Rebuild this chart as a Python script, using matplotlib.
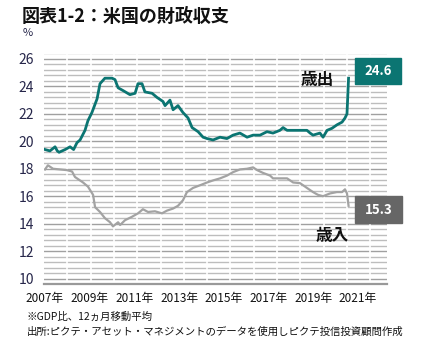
import matplotlib
matplotlib.use('Agg')
import matplotlib.pyplot as plt
from matplotlib.patches import Rectangle
from matplotlib.ticker import MultipleLocator
import numpy as np

plt.rcParams['font.family'] = ['Noto Sans CJK JP', 'DejaVu Sans']

# 歳出 (expenditure), % of GDP, 12-month moving average
spend_x = [2007.00, 2007.22, 2007.45, 2007.55, 2007.63, 2007.90, 2008.12, 2008.28,
           2008.43, 2008.57, 2008.79, 2008.92, 2009.10, 2009.33, 2009.46, 2009.68,
           2010.00, 2010.13, 2010.27, 2010.49, 2010.80, 2011.03, 2011.16, 2011.34,
           2011.47, 2011.79, 2012.01, 2012.28, 2012.37, 2012.59, 2012.73, 2012.95,
           2013.17, 2013.40, 2013.58, 2013.85, 2014.07, 2014.25, 2014.52, 2014.83,
           2015.14, 2015.41, 2015.72, 2016.04, 2016.31, 2016.62, 2016.93, 2017.20,
           2017.51, 2017.65, 2017.83, 2018.10, 2018.41, 2018.72, 2018.86, 2018.99,
           2019.30, 2019.44, 2019.62, 2019.84, 2020.06, 2020.29, 2020.42, 2020.51,
           2020.58]
spend_y = [19.4, 19.3, 19.6, 19.3, 19.2, 19.4, 19.6, 19.4,
           19.9, 20.1, 20.8, 21.5, 22.1, 23.1, 24.2, 24.6,
           24.6, 24.5, 23.9, 23.7, 23.4, 23.5, 24.2, 24.2,
           23.6, 23.5, 23.2, 22.9, 22.6, 23.0, 22.3, 22.6,
           22.1, 21.7, 21.0, 20.7, 20.3, 20.2, 20.1, 20.3,
           20.2, 20.45, 20.6, 20.3, 20.45, 20.45, 20.7, 20.6,
           20.8, 21.0, 20.8, 20.8, 20.8, 20.8, 20.6, 20.45,
           20.6, 20.3, 20.8, 20.95, 21.2, 21.4, 21.7, 22.0,
           24.6]

# 歳入 (revenue)
rev_x = [2007.00, 2007.13, 2007.36, 2007.98, 2008.21, 2008.34, 2008.70, 2008.92,
         2009.15, 2009.24, 2009.46, 2009.68, 2009.91, 2010.04, 2010.27, 2010.36,
         2010.58, 2010.89, 2011.16, 2011.38, 2011.61, 2011.92, 2012.23, 2012.46,
         2012.73, 2012.95, 2013.17, 2013.35, 2013.62, 2013.94, 2014.25, 2014.52,
         2014.83, 2015.14, 2015.41, 2015.72, 2016.04, 2016.31, 2016.49, 2016.75,
         2017.07, 2017.20, 2017.51, 2017.83, 2018.10, 2018.41, 2018.72, 2018.99,
         2019.21, 2019.44, 2019.75, 2020.06, 2020.29, 2020.42, 2020.51, 2020.58]
rev_y = [17.95, 18.25, 18.0, 17.9, 17.8, 17.4, 17.0, 16.7,
         16.1, 15.2, 14.85, 14.4, 14.1, 13.8, 14.1, 13.9,
         14.25, 14.5, 14.75, 15.05, 14.85, 14.9, 14.75, 14.95,
         15.1, 15.3, 15.7, 16.3, 16.6, 16.8, 17.0, 17.15,
         17.3, 17.5, 17.75, 17.95, 18.0, 18.1, 17.9, 17.7,
         17.5, 17.3, 17.3, 17.3, 17.0, 16.95, 16.6, 16.3,
         16.1, 16.0, 16.2, 16.3, 16.3, 16.5, 16.2, 15.3]

year_ticks = [2007, 2009, 2011, 2013, 2015, 2017, 2019, 2021]
year_labels = ['%d年' % y for y in year_ticks]
y_ticks = [10, 12, 14, 16, 18, 20, 22, 24, 26]

TEAL = '#0b7572'
GRAY_LINE = '#a3a3a3'
GRAY_BOX = '#666666'
NAVY = '#26264a'

fig = plt.figure(figsize=(4.23, 3.42), dpi=100)
ax = fig.add_axes([44 / 423, 1 - 284 / 342, 343 / 423, 230.5 / 342])
x_lo, x_hi = 2006.955, 2022.30
ax.set_xlim(x_lo, x_hi)
ax.set_ylim(9.6, 26.4)

# horizontal grid every 0.4 (minor) and on the labelled values (major)
ax.set_yticks(y_ticks)
ax.yaxis.set_minor_locator(MultipleLocator(0.4))
ax.grid(axis='y', which='minor', color='#bdbdbd', lw=1.0)
ax.grid(axis='y', which='major', color='#a0a0a0', lw=1.0)
ax.set_axisbelow(True)
# white vertical breaks in the grid
for k in range(1, 15):
    xb = x_lo + 23.3 * k / 343 * (x_hi - x_lo)
    ax.axvline(xb, color='white', lw=1.2, zorder=1.5)

ax.plot(rev_x, rev_y, color=GRAY_LINE, lw=1.6, zorder=3)
ax.plot(spend_x, spend_y, color=TEAL, lw=2.0, zorder=4)
ax.set_xlim(x_lo, x_hi)
ax.set_ylim(9.6, 26.4)

for s in ['top', 'right', 'left']:
    ax.spines[s].set_visible(False)
ax.spines['bottom'].set_color('#999999')
ax.spines['bottom'].set_linewidth(1.6)

ax.set_yticklabels([str(v) for v in y_ticks], fontsize=10, color=NAVY)
ax.set_xticks(year_ticks)
ax.set_xticklabels(year_labels, fontsize=8.5, color='#111111')
ax.tick_params(axis='both', which='both', length=0)
ax.tick_params(axis='y', pad=7)
ax.tick_params(axis='x', pad=6)

# series names
ax.text(2019.19, 24.47, '歳出', fontsize=12, fontweight='bold', ha='center', va='center', color='#111111')
ax.text(2019.86, 13.1, '歳入', fontsize=12, fontweight='bold', ha='center', va='center', color='#111111')

# value boxes
fig.add_artist(Rectangle((355 / 423, 1 - 84 / 342), 46 / 423, 26 / 342,
                         transform=fig.transFigure, color=TEAL, zorder=6))
fig.text(378 / 423, 1 - 71 / 342, '%.1f' % spend_y[-1], color='white', fontsize=9.5,
         fontweight='bold', ha='center', va='center', zorder=7)
fig.add_artist(Rectangle((355 / 423, 1 - 223 / 342), 47 / 423, 27 / 342,
                         transform=fig.transFigure, color=GRAY_BOX, zorder=6))
fig.text(378.5 / 423, 1 - 209.5 / 342, '%.1f' % rev_y[-1], color='white', fontsize=9.5,
         fontweight='bold', ha='center', va='center', zorder=7)

# title and notes
fig.text(22 / 423, 1 - 16 / 342, '図表1-2：米国の財政収支', fontsize=13, fontweight='bold',
         ha='left', va='center', color='#111111')
fig.text(23 / 423, 1 - 33 / 342, '%', fontsize=8, ha='left', va='center', color=NAVY)
fig.text(27 / 423, 1 - 317 / 342, '※GDP比、12ヵ月移動平均', fontsize=7.5,
         ha='left', va='center', color='#111111')
fig.text(27 / 423, 1 - 332 / 342, '出所:ピクテ・アセット・マネジメントのデータを使用しピクテ投信投資顧問作成',
         fontsize=7.5, ha='left', va='center', color='#111111')

fig.savefig('out.png', dpi=100)
